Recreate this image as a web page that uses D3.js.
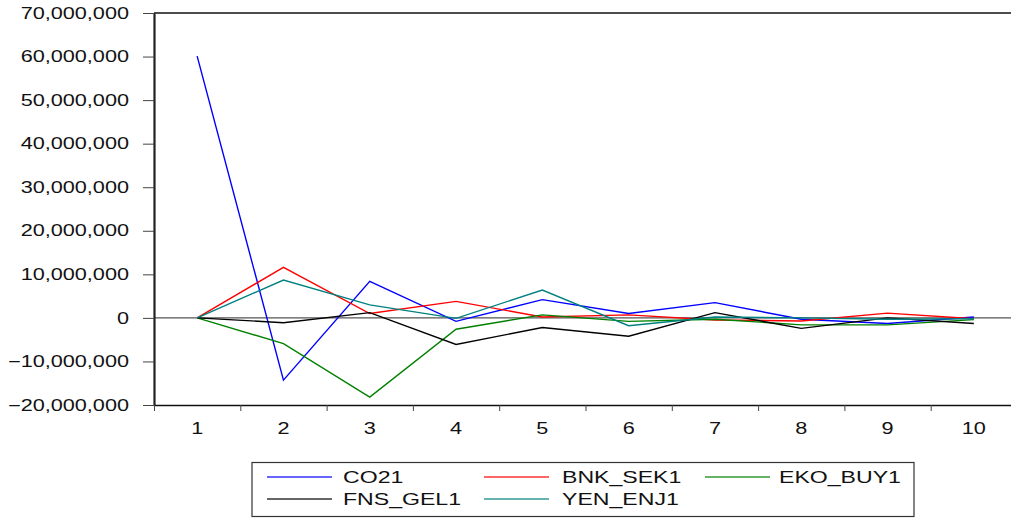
<!DOCTYPE html>
<html>
<head>
<meta charset="utf-8">
<script src="https://cdn.jsdelivr.net/npm/d3@7"></script>
<style>
  body { margin: 0; background: #fff; }
  text { font-family: Arial, "Liberation Sans", sans-serif; fill: #111; }
</style>
</head>
<body>
<div id="chart"></div>
<script>
// Data
var periods = [1, 2, 3, 4, 5, 6, 7, 8, 9, 10];
var yTicks = [-20000000, -10000000, 0, 10000000, 20000000, 30000000, 40000000, 50000000, 60000000, 70000000];

var co21 = [60100000, -14300000, 8400000, -800000, 4200000, 1000000, 3500000, -300000, -1300000, 200000];
var bnkSek1 = [0, 11600000, 1000000, 3800000, 200000, 700000, -500000, -700000, 1100000, -200000];
var ekoBuy1 = [0, -5900000, -18200000, -2600000, 700000, -800000, -300000, -1600000, -1600000, -400000];
var fnsGel1 = [0, -1100000, 1200000, -6100000, -2200000, -4200000, 1200000, -2400000, 0, -1300000];
var yenEnj1 = [0, 8700000, 3000000, -100000, 6400000, -1800000, 200000, 0, -300000, -200000];

var seriesNames = ["CO21", "BNK_SEK1", "EKO_BUY1", "FNS_GEL1", "YEN_ENJ1"];
var seriesColors = ["#0000ff", "#ff0000", "#008000", "#000000", "#008080"];
var seriesValues = [co21, bnkSek1, ekoBuy1, fnsGel1, yenEnj1];

// Chart setup
var svgWidth = 1011;
var svgHeight = 519;
var plotLeft = 154, plotTop = 13, plotBottom = 405, plotRight = 1017;
var axisScaleX = 1.33;   // text in the picture is stretched sideways
var legendScaleX = 1.4;

var svg = d3.select("#chart").append("svg")
    .attr("width", svgWidth)
    .attr("height", svgHeight);

// Scales
var x = d3.scaleBand().domain(periods).range([plotLeft, plotRight]);
var xEdge = d3.scaleLinear().domain([0.5, 10.5]).range([plotLeft, plotRight]);
var y = d3.scaleLinear().domain([-20000000, 70000000]).range([plotBottom, plotTop]);

// zero line
svg.append("line")
    .attr("x1", plotLeft).attr("x2", svgWidth)
    .attr("y1", y(0)).attr("y2", y(0))
    .attr("stroke", "#555").attr("stroke-width", 1.2);

// frame top
svg.append("line")
    .attr("x1", plotLeft).attr("x2", svgWidth)
    .attr("y1", plotTop).attr("y2", plotTop)
    .attr("stroke", "#111").attr("stroke-width", 1.5);

// y axis
var yAxis = svg.append("g")
    .attr("transform", `translate(${plotLeft},0)`)
    .call(d3.axisLeft(y).tickValues(yTicks).tickSize(11).tickPadding(14).tickSizeOuter(0)
      .tickFormat(d3.format(",")));
yAxis.select(".domain").attr("stroke", "#222").attr("stroke-width", 2.2);
yAxis.selectAll(".tick line").attr("stroke", "#444").attr("stroke-width", 1);
yAxis.selectAll(".tick text")
    .attr("font-size", "16.3px")
    .attr("fill", "#111")
    .each(function() {
      var t = d3.select(this);
      var tx = +t.attr("x");
      t.attr("x", 0).attr("transform", `translate(${tx},0) scale(${axisScaleX},1)`);
    });

// x axis: ticks at band edges, labels at band centres
var xTickAxis = svg.append("g")
    .attr("transform", `translate(0,${plotBottom})`)
    .call(d3.axisBottom(xEdge).tickValues(d3.range(0.5, 10.5, 1)).tickSize(6).tickSizeOuter(0).tickFormat(""));
xTickAxis.select(".domain").attr("stroke", "#111").attr("stroke-width", 1.5);
xTickAxis.selectAll(".tick line").attr("stroke", "#444");

var xLabelAxis = svg.append("g")
    .attr("transform", `translate(0,${plotBottom})`)
    .call(d3.axisBottom(x).tickSize(0).tickPadding(17));
xLabelAxis.select(".domain").remove();
xLabelAxis.selectAll(".tick text")
    .attr("font-size", "16.3px")
    .attr("fill", "#111")
    .attr("transform", `scale(${axisScaleX},1)`);

// Lines
var line = d3.line()
    .x((d, i) => x(periods[i]) + x.bandwidth() / 2)
    .y(d => y(d));

seriesValues.forEach(function(vals, k) {
  svg.append("path")
    .datum(vals)
    .attr("fill", "none")
    .attr("stroke", seriesColors[k])
    .attr("stroke-width", 1.4)
    .attr("stroke-linejoin", "miter")
    .attr("d", line);
});

// Legend
var legend = svg.append("g");
legend.append("rect")
    .attr("x", 252).attr("y", 462.5)
    .attr("width", 662).attr("height", 54)
    .attr("fill", "#fff").attr("stroke", "#333").attr("stroke-width", 1.2);

var legendPos = [
  {lx: 267, tx: 343, ly: 477},
  {lx: 484, tx: 562, ly: 477},
  {lx: 705, tx: 779, ly: 477},
  {lx: 267, tx: 343, ly: 499},
  {lx: 484, tx: 562, ly: 499}
];

seriesNames.forEach(function(name, k) {
  var p = legendPos[k];
  legend.append("line")
    .attr("x1", p.lx).attr("x2", p.lx + 65)
    .attr("y1", p.ly).attr("y2", p.ly)
    .attr("stroke", seriesColors[k]).attr("stroke-width", 1.4).attr("opacity", 0.8);
  legend.append("text")
    .attr("transform", `translate(${p.tx},${p.ly + 6}) scale(${legendScaleX},1)`)
    .attr("font-size", "16.5px")
    .text(name);
});
</script>
</body>
</html>
